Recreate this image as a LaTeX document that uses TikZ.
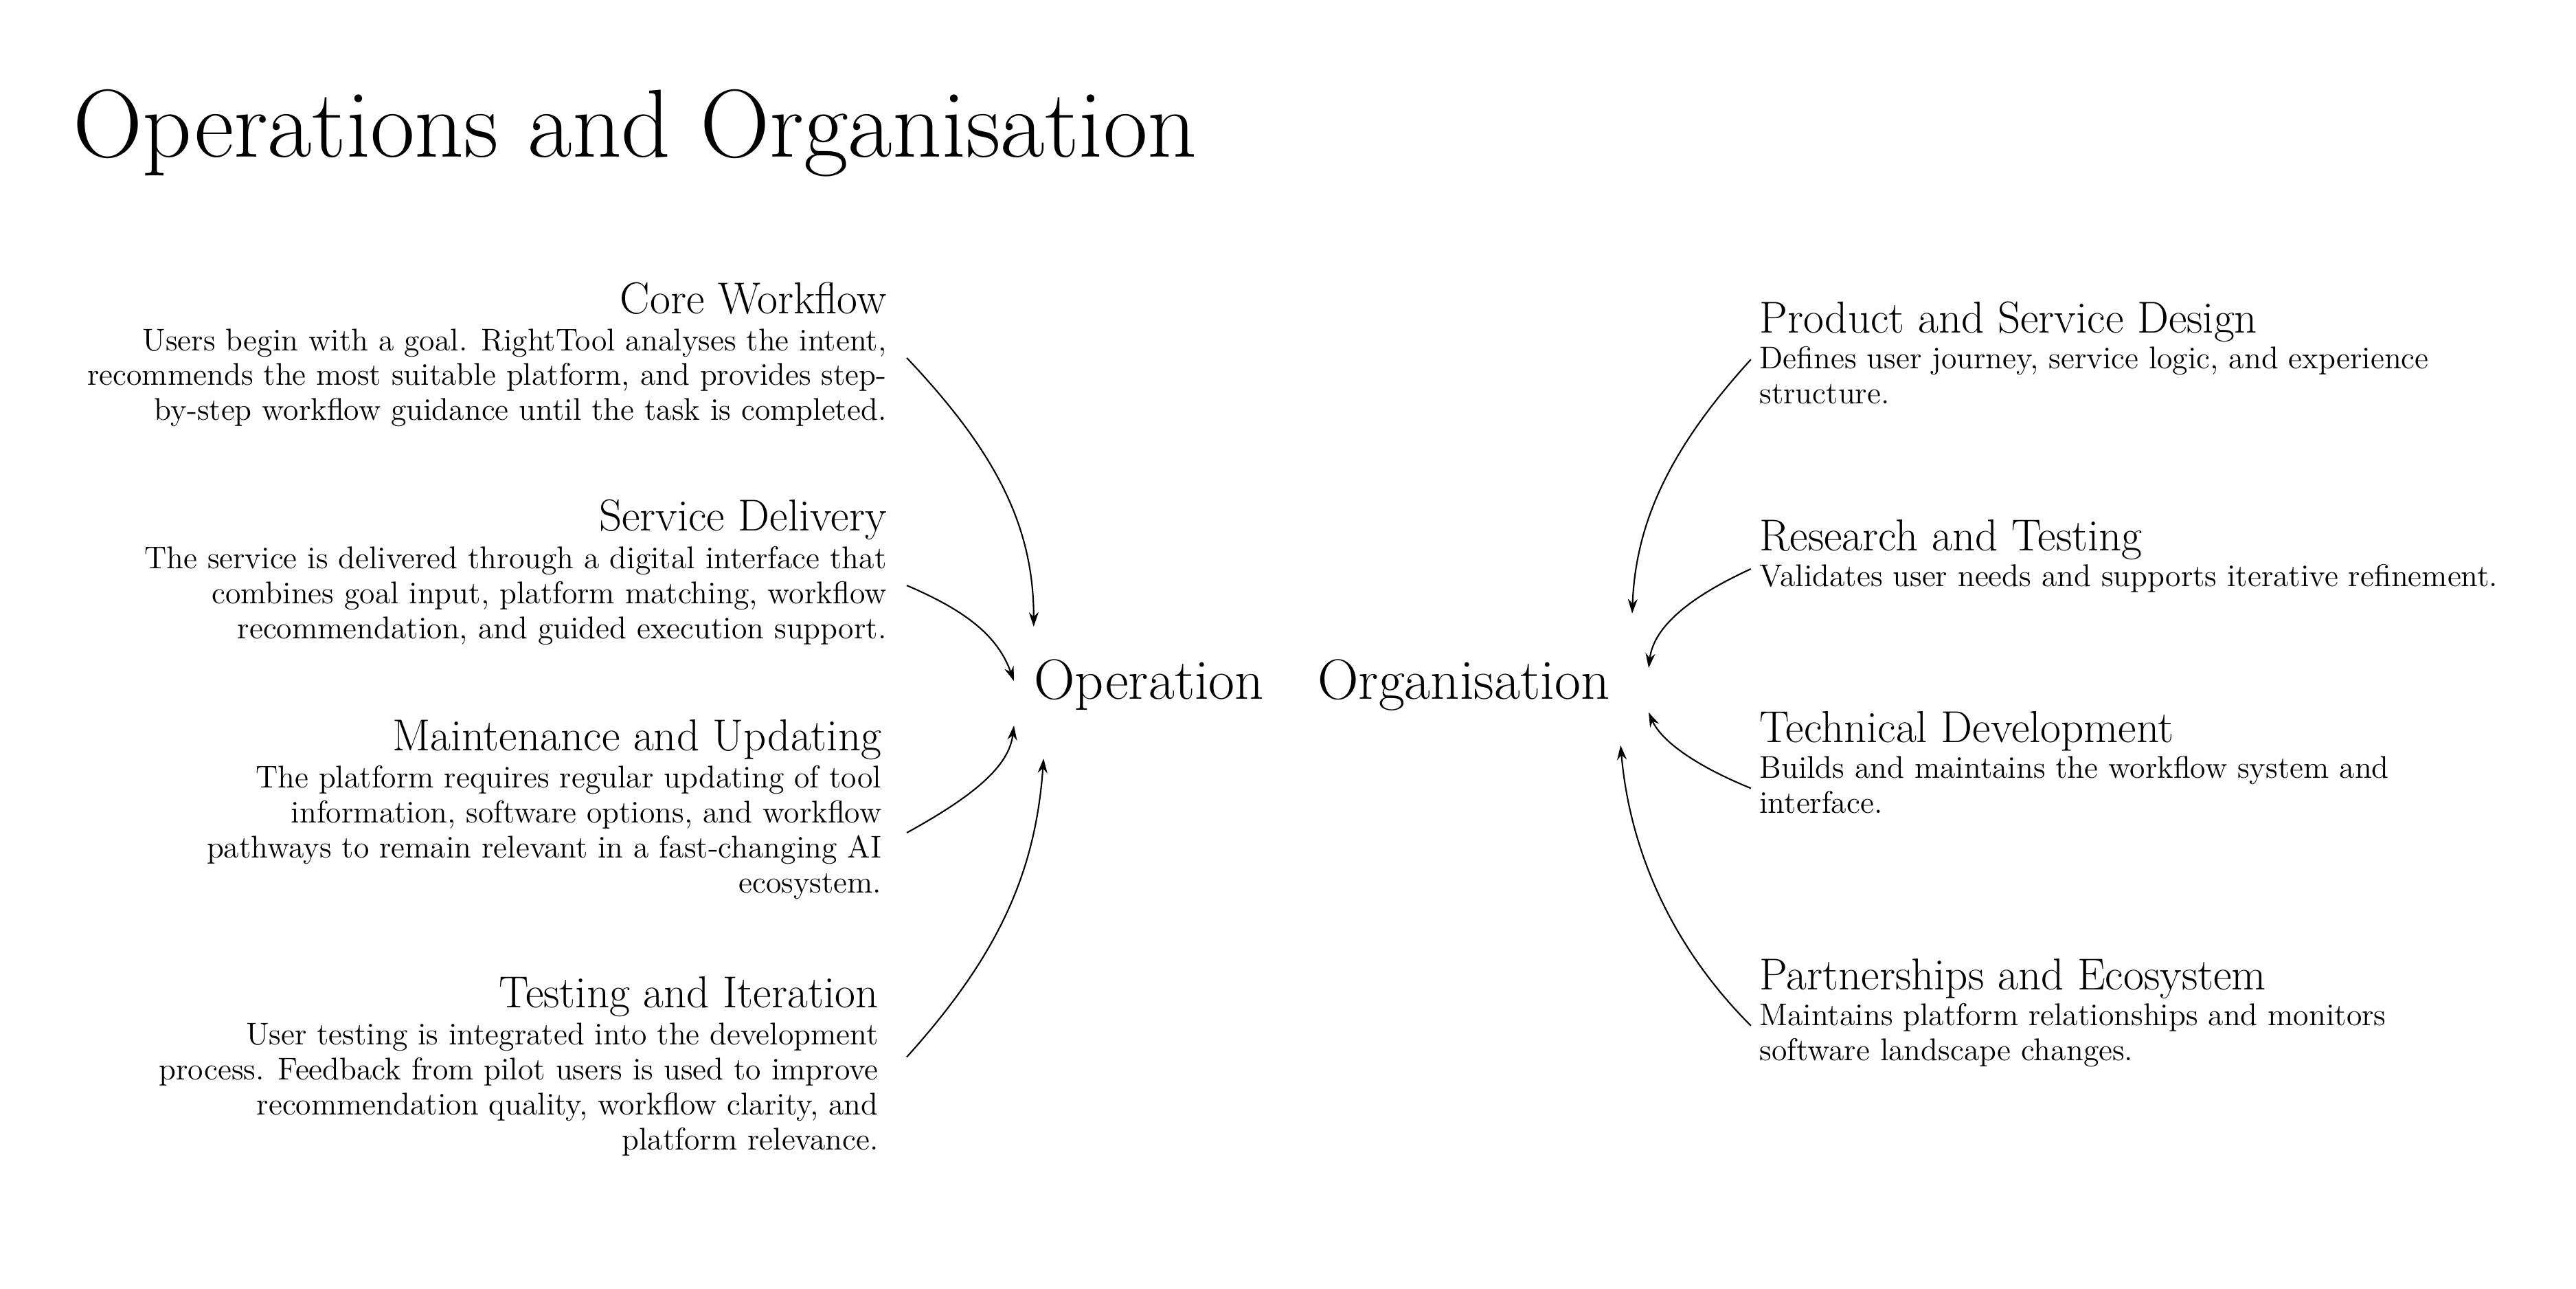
\documentclass[tikz,border=0pt]{standalone}
\usetikzlibrary{arrows.meta}
\begin{document}
\begin{tikzpicture}[x=0.024cm,y=-0.024cm,
  head/.style={font=\fontsize{18.5}{20}\selectfont,inner sep=0pt},
  lbody/.style={font=\fontsize{13}{14.5}\selectfont,inner sep=0pt,align=right},
  rbody/.style={font=\fontsize{13}{14.5}\selectfont,inner sep=0pt,align=left},
  ctr/.style={font=\fontsize{23.5}{26}\selectfont,inner sep=0pt},
  arr/.style={-{Stealth[length=6pt,width=4pt]},line width=0.6pt}]
\useasboundingbox (0,0) rectangle (1562.5,781.25);
\node[anchor=base west,inner sep=0pt,font=\fontsize{40}{44}\selectfont] (title) at (44,95) {Operations and Organisation};

\node[head,anchor=base east] (h1) at (538,190) {Core Workflow};
\node[lbody,anchor=north east] (b1) at (538,199) {Users begin with a goal. RightTool analyses the intent,\\ recommends the most suitable platform, and provides step-\\ by-step workflow guidance until the task is completed.};
\node[head,anchor=base east] (h2) at (538,322) {Service Delivery};
\node[lbody,anchor=north east] (b2) at (538,331) {The service is delivered through a digital interface that\\ combines goal input, platform matching, workflow\\ recommendation, and guided execution support.};
\node[head,anchor=base east] (h3) at (535,455) {Maintenance and Updating};
\node[lbody,anchor=north east] (b3) at (535,464) {The platform requires regular updating of tool\\ information, software options, and workflow\\ pathways to remain relevant in a fast-changing AI\\ ecosystem.};
\node[head,anchor=base east] (h4) at (533,611) {Testing and Iteration};
\node[lbody,anchor=north east] (b4) at (533,620) {User testing is integrated into the development\\ process. Feedback from pilot users is used to improve\\ recommendation quality, workflow clarity, and\\ platform relevance.};

\node[head,anchor=base west] (h5) at (1067,202) {Product and Service Design};
\node[rbody,anchor=north west] (b5) at (1067,210) {Defines user journey, service logic, and experience\\ structure.};
\node[head,anchor=base west] (h6) at (1067,334) {Research and Testing};
\node[rbody,anchor=north west] (b6) at (1067,342) {Validates user needs and supports iterative refinement.};
\node[head,anchor=base west] (h7) at (1067,450) {Technical Development};
\node[rbody,anchor=north west] (b7) at (1067,458) {Builds and maintains the workflow system and\\ interface.};
\node[head,anchor=base west] (h8) at (1067,600) {Partnerships and Ecosystem};
\node[rbody,anchor=north west] (b8) at (1067,608) {Maintains platform relationships and monitors\\ software landscape changes.};

\node[ctr,anchor=base west] (op) at (627,424) {Operation};
\node[ctr,anchor=base west] (org) at (799,424) {Organisation};

\coordinate (a1) at (550,217); \coordinate (t1) at (627,380);
\coordinate (a2) at (550,355); \coordinate (t2) at (615,413);
\coordinate (a3) at (550,505); \coordinate (t3) at (615,440);
\coordinate (a4) at (550,641); \coordinate (t4) at (633,460);
\coordinate (a5) at (1062,218); \coordinate (t5) at (990,372);
\coordinate (a6) at (1062,345); \coordinate (t6) at (1000,405);
\coordinate (a7) at (1062,478); \coordinate (t7) at (1000,432);
\coordinate (a8) at (1062,622); \coordinate (t8) at (983,452);
\draw[arr] (a1) .. controls (605,275) and (627,320) .. (t1);
\draw[arr] (a2) .. controls (585,370) and (605,385) .. (t2);
\draw[arr] (a3) .. controls (590,483) and (612,465) .. (t3);
\draw[arr] (a4) .. controls (605,580) and (628,530) .. (t4);
\draw[arr] (a5) .. controls (1010,275) and (992,320) .. (t5);
\draw[arr] (a6) .. controls (1025,362) and (1003,380) .. (t6);
\draw[arr] (a7) .. controls (1030,465) and (1008,450) .. (t7);
\draw[arr] (a8) .. controls (1010,570) and (988,510) .. (t8);
\end{tikzpicture}
\end{document}
